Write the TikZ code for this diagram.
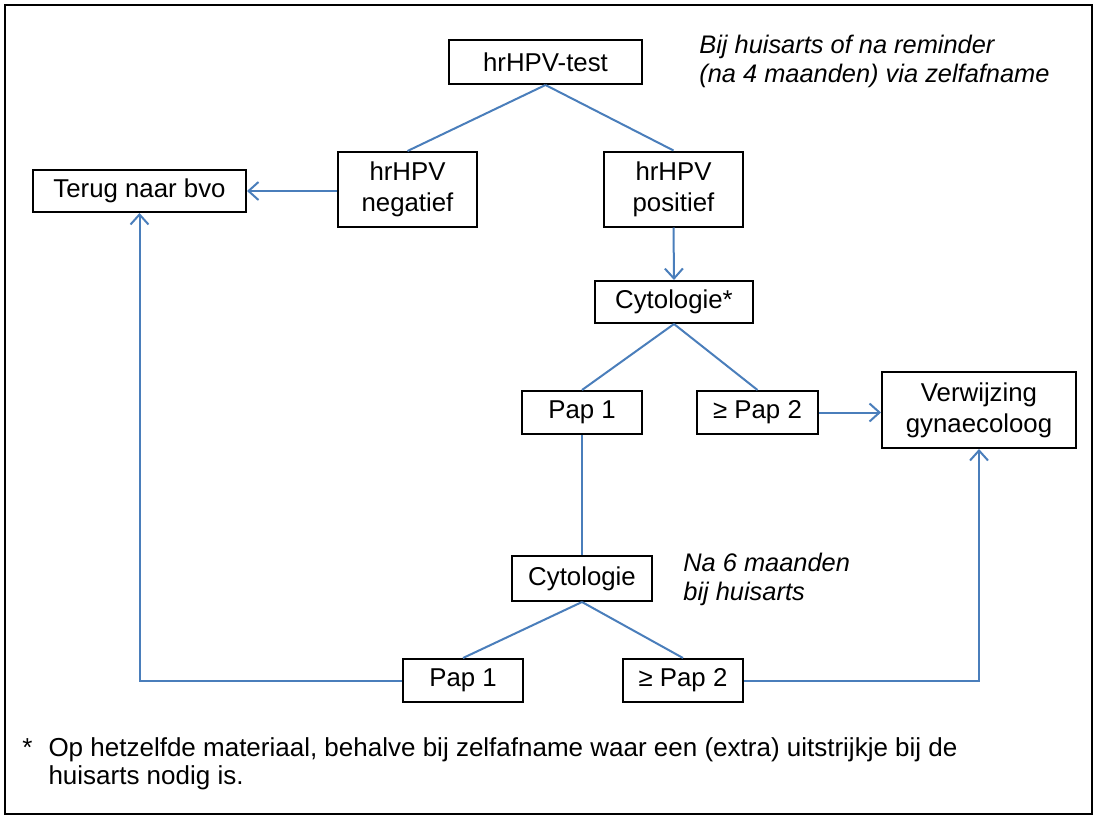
\documentclass[tikz,border=0pt]{standalone}
\usepackage{fontspec}
\setmainfont{Liberation Sans}
\usetikzlibrary{arrows.meta}
\definecolor{flowblue}{HTML}{4A7EBB}
\tikzset{
 box/.style={draw, line width=1pt, inner sep=0pt, align=center, font=\fontsize{12.9}{15.5}\selectfont},
 link/.style={draw=flowblue, line width=1pt},
 flowarrow/.style={link, -{Straight Barb[length=5pt,width=9pt]}},
 note/.style={inner sep=0pt, align=left, font=\fontsize{12.7}{14.5}\selectfont\itshape}
}
\begin{document}
\begin{tikzpicture}[x=0.5pt,y=-0.5pt]
\useasboundingbox (0,0) rectangle (1097,819);
\draw[line width=1pt] (5,5) rectangle (1092,814);
% first test
\node[box, minimum width=96.5pt, minimum height=22pt] (test) at (545.5,62) {hrHPV-test};
\node[box, minimum width=69.5pt, minimum height=37.5pt] (neg) at (407.5,189.5) {hrHPV\\negatief};
\node[box, minimum width=69.5pt, minimum height=37.5pt] (pos) at (673.5,189) {hrHPV\\positief};
\node[box, minimum width=106.5pt, minimum height=21pt] (terug) at (139.5,191) {Terug naar bvo};
\node[note, anchor=base west] (remark) at (699,82) {Bij huisarts of na reminder\\(na 4 maanden) via zelfafname};
% cytology
\node[box, minimum width=79pt, minimum height=21pt] (cyto1) at (674,302) {Cytologie*};
\node[box, minimum width=60pt, minimum height=21.5pt] (pap1a) at (582,412.5) {Pap 1};
\node[box, minimum width=60.5pt, minimum height=21.5pt] (pap2a) at (757.5,412.5) {≥ Pap 2};
\node[box, minimum width=97pt, minimum height=38pt] (verw) at (979,410) {Verwijzing\\gynaecoloog};
% repeat after 6 months
\node[box, minimum width=70pt, minimum height=22.5pt] (cyto2) at (582,578.5) {Cytologie};
\node[note, anchor=base west] (delay) at (683,600) {Na 6 maanden\\bij huisarts};
\node[box, minimum width=60pt, minimum height=21.5pt] (pap1b) at (463,680.5) {Pap 1};
\node[box, minimum width=60pt, minimum height=21.5pt] (pap2b) at (683,680.5) {≥ Pap 2};
% footnote
\node[inner sep=0pt, anchor=base west, font=\fontsize{13}{14}\selectfont] (footnote) at (22,756)
 {\begin{tabular}[t]{@{}l@{\hspace{8pt}}l@{}}*&Op hetzelfde materiaal, behalve bij zelfafname waar een (extra) uitstrijkje bij de\\&huisarts nodig is.\end{tabular}};
% connectors
\draw[link] (test.south) -- (neg.north);
\draw[link] (test.south) -- (pos.north);
\draw[flowarrow] (neg.west |- terug.east) -- (terug.east);
\draw[flowarrow] (pos.south) -- (cyto1.north);
\draw[link] (cyto1.south) -- (pap1a.north);
\draw[link] (cyto1.south) -- (pap2a.north);
\draw[flowarrow] (pap2a.east) -- (pap2a.east -| verw.west);
\draw[link] (pap1a.south) -- (cyto2.north);
\draw[link] (cyto2.south) -- (pap1b.north);
\draw[link] (cyto2.south) -- (pap2b.north);
\draw[flowarrow] (pap1b.west) -| (terug.south);
\draw[flowarrow] (pap2b.east) -| (verw.south);
\end{tikzpicture}
\end{document}
